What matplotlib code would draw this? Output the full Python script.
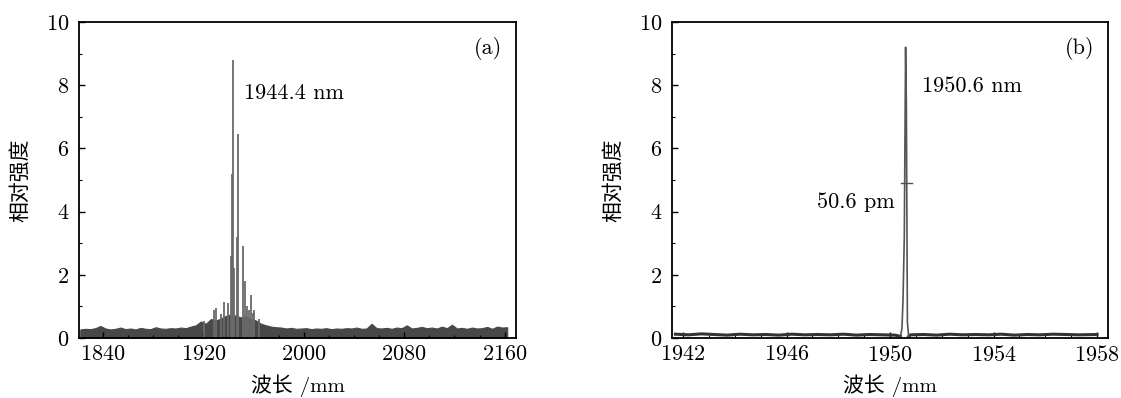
import numpy as np
import matplotlib
matplotlib.use('Agg')
import matplotlib.pyplot as plt
from matplotlib.ticker import MultipleLocator, FixedLocator

plt.rcParams['font.family'] = ['cmr10', 'Noto Sans CJK SC']
plt.rcParams['axes.formatter.use_mathtext'] = True
plt.rcParams['font.size'] = 16

# (a) broad spectrum: noisy floor sampled every 4 nm, plus the discrete lines
a_floor_start, a_floor_step = 1822, 4
a_floor = [0.27, 0.29, 0.28, 0.31, 0.38, 0.30, 0.27, 0.29, 0.33, 0.28,
           0.30, 0.27, 0.32, 0.29, 0.28, 0.34, 0.30, 0.29, 0.31, 0.30,
           0.33, 0.31, 0.36, 0.40, 0.52, 0.45, 0.60, 0.55, 0.62, 0.70,
           0.75, 0.70, 0.65, 0.68, 0.60, 0.55, 0.45, 0.40, 0.36, 0.34,
           0.33, 0.30, 0.32, 0.29, 0.30, 0.31, 0.28, 0.30, 0.29, 0.31,
           0.28, 0.30, 0.29, 0.31, 0.30, 0.33, 0.29, 0.30, 0.45, 0.31,
           0.30, 0.32, 0.29, 0.33, 0.31, 0.40, 0.30, 0.32, 0.35, 0.31,
           0.33, 0.30, 0.36, 0.31, 0.42, 0.30, 0.32, 0.29, 0.33, 0.30,
           0.31, 0.35, 0.29, 0.36, 0.33, 0.34]
a_line_wl = [1920.6, 1928.2, 1930.2, 1934.3, 1936.2, 1939.8, 1942.0, 1942.6,
             1943.4, 1944.2, 1946.7, 1947.3, 1948.0, 1951.7, 1952.8, 1954.5,
             1956.3, 1958.3, 1959.5, 1960.5, 1964.0]
a_line_int = [0.55, 0.90, 0.95, 0.75, 1.15, 1.10, 2.60, 5.20,
              8.80, 2.20, 3.20, 6.45, 0.70, 2.90, 1.80, 1.00,
              0.90, 1.35, 0.80, 0.90, 0.60]
a_xticks = [1840, 1920, 2000, 2080, 2160]

# (b) single-line spectrum
b_floor_wl = [1941.7, 1942.2, 1942.7, 1943.2, 1943.7, 1944.2, 1944.7, 1945.2,
              1945.7, 1946.2, 1946.7, 1947.2, 1947.7, 1948.2, 1948.7, 1949.2,
              1949.7, 1950.2, 1950.40]
b_floor_int = [0.12, 0.10, 0.13, 0.11, 0.09, 0.12, 0.10, 0.11,
               0.09, 0.12, 0.10, 0.11, 0.10, 0.12, 0.09, 0.11,
               0.10, 0.09, 0.05]
b_peak_wl = [1950.40, 1950.46, 1950.50, 1950.55, 1950.60, 1950.63, 1950.67, 1950.72]
b_peak_int = [0.05, 0.30, 1.20, 3.20, 9.20, 7.35, 0.50, 0.05]
b_tail_wl = [1950.72, 1950.8, 1951.3, 1951.8, 1952.3, 1952.8, 1953.3, 1953.8,
             1954.3, 1954.8, 1955.3, 1955.8, 1956.3, 1956.8, 1957.3, 1958.0]
b_tail_int = [0.05, 0.10, 0.11, 0.09, 0.12, 0.10, 0.11, 0.10,
              0.12, 0.09, 0.11, 0.10, 0.12, 0.11, 0.10, 0.11]
b_fwhm_y = 4.9
b_fwhm_x = [1950.43, 1950.85]
b_xticks = [1942, 1946, 1950, 1954, 1958]


def style_axes(ax, xlim, xticks, xminor):
    ax.set_xlim(*xlim)
    ax.set_ylim(0, 10)
    ax.xaxis.set_major_locator(FixedLocator(xticks))
    ax.xaxis.set_minor_locator(MultipleLocator(xminor))
    ax.yaxis.set_major_locator(MultipleLocator(2))
    ax.yaxis.set_minor_locator(MultipleLocator(1))
    ax.tick_params(which='both', direction='in', top=False, right=False,
                   labelsize=16)
    ax.tick_params(which='major', length=4, width=1)
    ax.tick_params(which='minor', length=2.5, width=0.8)
    ax.tick_params(axis='y', pad=7)
    ax.tick_params(axis='x', pad=5)
    for s in ax.spines.values():
        s.set_linewidth(1.3)
    ax.set_xlabel('波长 /mm', fontsize=15)
    ax.set_ylabel('相对强度', fontsize=15)
    ax.xaxis.set_label_coords(0.5, -0.115)
    ax.yaxis.set_label_coords(-0.113, 0.5)


fig = plt.figure(figsize=(11.21, 3.98), dpi=100)
ax1 = fig.add_axes([0.0705, 0.1508, 0.3898, 0.794])
ax2 = fig.add_axes([0.5995, 0.1508, 0.389, 0.794])

# panel (a)
xa = a_floor_start + a_floor_step * np.arange(len(a_floor))
ax1.fill_between(xa, 0, a_floor, color='#484848', lw=0.8,
                 edgecolor='#484848')
ax1.vlines(a_line_wl, 0, a_line_int, color='#6a6a6a', lw=1.3)
ax1.text(1952.3, 7.76, '1944.4 nm', va='center', ha='left')
ax1.text(2158, 9.17, '(a)', va='center', ha='right')
style_axes(ax1, (1821, 2169), a_xticks, 20)

# panel (b)
ax2.plot(b_floor_wl, b_floor_int, color='#333333', lw=2.2)
ax2.plot(b_tail_wl, b_tail_int, color='#333333', lw=2.2)
ax2.plot(b_peak_wl, b_peak_int, color='#555555', lw=1.2)
ax2.plot(b_fwhm_x, [b_fwhm_y, b_fwhm_y], color='#505050', lw=1.0)
ax2.text(1951.22, 7.97, '1950.6 nm', va='center', ha='left')
ax2.text(1950.18, 4.31, '50.6 pm', va='center', ha='right')
ax2.text(1957.9, 9.17, '(b)', va='center', ha='right')
style_axes(ax2, (1941.57, 1958.43), b_xticks, 1)

fig.savefig('out.png', dpi=100)
